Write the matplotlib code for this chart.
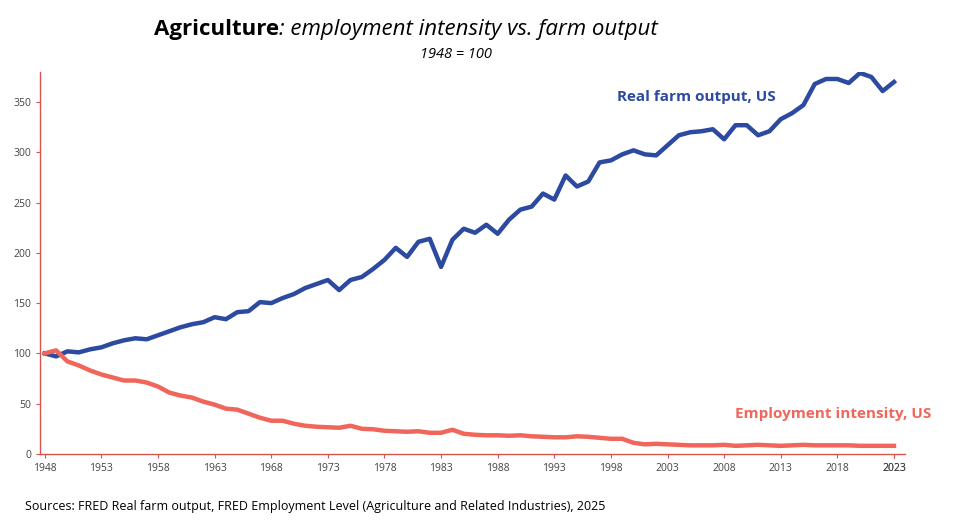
import matplotlib
matplotlib.use("Agg")
import matplotlib.pyplot as plt
import numpy as np

plt.rcParams['font.family'] = ['Open Sans', 'DejaVu Sans']

years = np.arange(1948, 2024)
farm_output = [100, 97, 102, 101, 104, 106, 110, 113, 115, 114,
               118, 122, 126, 129, 131, 136, 134, 141, 142, 151,
               150, 155, 159, 165, 169, 173, 163, 173, 176, 184,
               193, 205, 196, 211, 214, 186, 213, 224, 220, 228,
               219, 233, 243, 246, 259, 253, 277, 266, 271, 290,
               292, 298, 302, 298, 297, 307, 317, 320, 321, 323,
               313, 327, 327, 317, 321, 333, 339, 347, 368, 373,
               373, 369, 379, 375, 361, 370]
employment = [100, 103, 92, 88, 83, 79, 76, 73, 73, 71,
              67, 61, 58, 56, 52, 49, 45, 44, 40, 36,
              33, 33, 30, 28, 27, 26.5, 26, 28, 25, 24.5,
              23, 22.5, 22, 22.5, 21, 21, 24, 20, 19, 18.5,
              18.5, 18, 18.5, 17.5, 17, 16.5, 16.5, 17.5, 17, 16,
              15, 15, 11, 9.5, 10, 9.5, 9, 8.5, 8.5, 8.5,
              9, 8, 8.5, 9, 8.5, 8, 8.5, 9, 8.5, 8.5,
              8.5, 8.5, 8, 8, 8, 8]
xtick_years = list(range(1948, 2024, 5)) + [2023]

blue = "#2b4aa0"
red = "#f0665a"
spine = "#d9534f"

fig = plt.figure(figsize=(9.58, 5.29), dpi=100)
ax = fig.add_axes([0.042, 0.142, 0.903, 0.722])

ax.plot(years, farm_output, color=blue, lw=3.2)
ax.plot(years, employment, color=red, lw=3.2)

ax.set_xlim(1947.6, 2024.0)
ax.set_ylim(0, 380)
ax.set_xticks(xtick_years)
ax.set_yticks(range(0, 351, 50))
ax.tick_params(labelsize=7.5, colors="#444444", length=3)
ax.tick_params(axis='both', color=spine)
for s in ['top', 'right']:
    ax.spines[s].set_visible(False)
for s in ['left', 'bottom']:
    ax.spines[s].set_color(spine)
    ax.spines[s].set_linewidth(1)

ax.text(2012.6, 355, "Real farm output, US", color=blue, fontsize=11,
        fontweight='bold', ha='right', va='center')
ax.text(2026.3, 40, "Employment intensity, US", color=red, fontsize=11,
        fontweight='bold', ha='right', va='center', clip_on=False)

t1 = fig.text(0.161, 0.945, "Agriculture", fontsize=16, fontweight='bold', ha='left', va='center')
fig.canvas.draw()
bb = t1.get_window_extent().transformed(fig.transFigure.inverted())
fig.text(bb.x1, 0.945, ": employment intensity vs. farm output", fontsize=16,
         style='italic', ha='left', va='center')
fig.text(0.476, 0.897, "1948 = 100", fontsize=10.5, style='italic', ha='center', va='center')
fig.text(0.026, 0.043, "Sources: FRED Real farm output, FRED Employment Level (Agriculture and Related Industries), 2025",
         fontsize=9, ha='left', va='center')

fig.savefig("out.png", dpi=100)
